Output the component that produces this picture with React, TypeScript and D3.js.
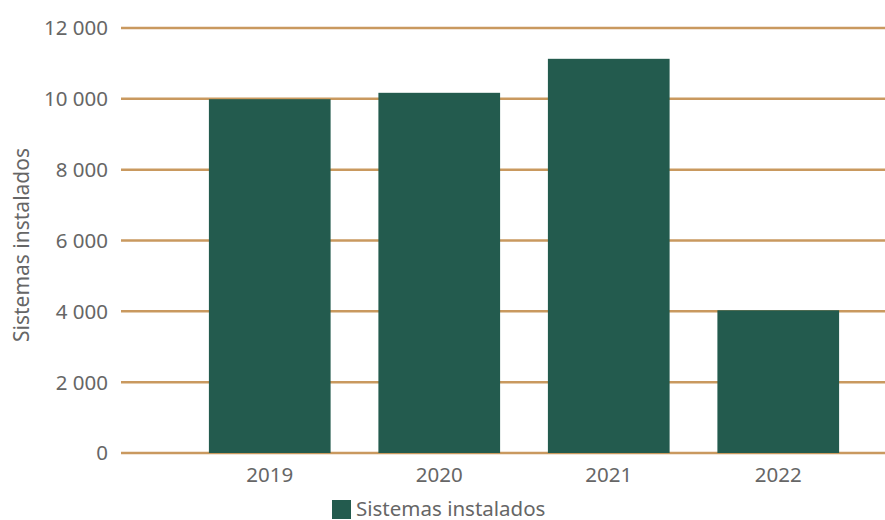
import React from "react";
import * as d3 from "d3";

const categories = ["2019", "2020", "2021", "2022"];
const values = [9990, 10170, 11130, 4030];
const yTicks = [0, 2000, 4000, 6000, 8000, 10000, 12000];
const seriesName = "Sistemas instalados";
const yTitle = "Sistemas instalados";

const W = 885;
const H = 520;
const FONT = "'Noto Sans', sans-serif";

export default function App() {
  const y = d3.scaleLinear().domain([0, 12000]).range([453, 28]);
  const x = d3
    .scaleBand<string>()
    .domain(categories)
    .range([185, 863])
    .paddingInner(0.282)
    .paddingOuter(0.141);
  const fmt = (v: number) => d3.format(",")(v).replace(/,/g, " ");

  return (
    <svg
      width={W}
      height={H}
      style={{ position: "absolute", left: 0, top: 0, background: "#fff" }}
      fontFamily={FONT}
    >
      {yTicks.map((t) => (
        <g key={t}>
          <line
            x1={121}
            x2={W}
            y1={y(t)}
            y2={y(t)}
            stroke="#C9995F"
            strokeWidth={2.5}
          />
          <text
            x={108}
            y={y(t)}
            dy="0.36em"
            textAnchor="end"
            fontSize={20.5}
            fill="#666"
          >
            {fmt(t)}
          </text>
        </g>
      ))}
      {categories.map((c, i) => (
        <g key={c}>
          <rect
            x={x(c)}
            y={y(values[i])}
            width={x.bandwidth()}
            height={y(0) - y(values[i])}
            fill="#235B4E"
          />
          <text
            x={(x(c) as number) + x.bandwidth() / 2}
            y={481.5}
            textAnchor="middle"
            fontSize={20.5}
            fill="#666"
          >
            {c}
          </text>
        </g>
      ))}
      <text
        transform={`translate(29, 245) rotate(-90)`}
        textAnchor="middle"
        fontSize={21}
        fill="#666"
      >
        {yTitle}
      </text>
      <rect x={332} y={500} width={19} height={19} fill="#235B4E" />
      <text x={356} y={515.5} fontSize={20.5} fill="#666">
        {seriesName}
      </text>
    </svg>
  );
}
